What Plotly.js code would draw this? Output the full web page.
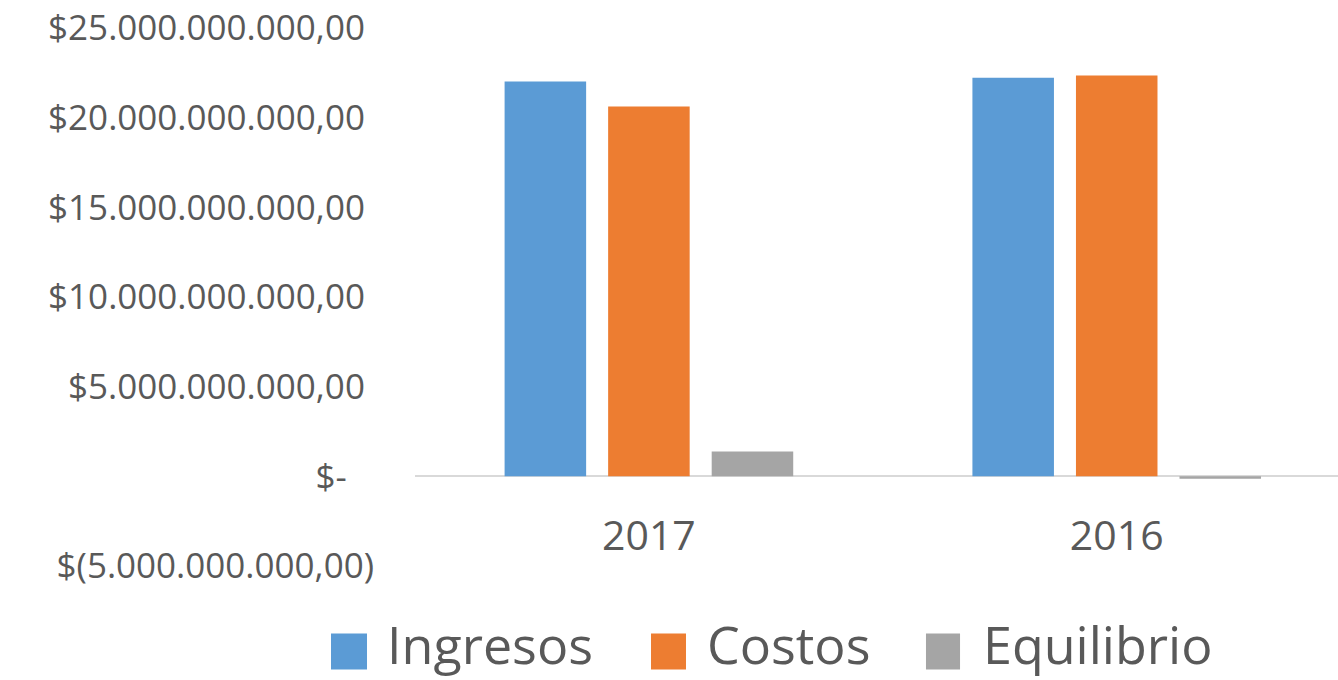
<!DOCTYPE html>
<html>
<head>
<meta charset="utf-8">
<script src="https://cdn.plot.ly/plotly-3.0.1.min.js"></script>
<style>html,body{margin:0;padding:0;background:#fff;}#chart{width:1338px;height:680px;}</style>
</head>
<body>
<div id="chart"></div>
<script>
const categories = ['2017', '2016'];
const seriesNames = ['Ingresos', 'Costos', 'Equilibrio'];
const ingresos = [22.01e9, 22.22e9];
const costos = [20.62e9, 22.35e9];
const equilibrio = [1.39e9, -0.14e9];
const tickValues = [-5e9, 0, 5e9, 10e9, 15e9, 20e9, 25e9];
const tickLabels = ['$(5.000.000.000,00)', '$-\u00a0\u00a0\u00a0', '$5.000.000.000,00\u00a0', '$10.000.000.000,00\u00a0', '$15.000.000.000,00\u00a0', '$20.000.000.000,00\u00a0', '$25.000.000.000,00\u00a0'];

const colors = ['#5B9BD5', '#ED7D31', '#A5A5A5'];
const values = [ingresos, costos, equilibrio];
const textColor = '#595959';
const fontFam = '"Open Sans", sans-serif';

const traces = seriesNames.map((name, i) => ({
  type: 'bar', name: name, x: categories, y: values[i],
  marker: {color: colors[i]}, showlegend: false, hoverinfo: 'x+y+name'
}));

// custom legend (large squares like the reference)
const legendX = [[-0.0910, -0.0520, -0.0310], [0.2557, 0.2936, 0.3157], [0.5536, 0.5905, 0.6147]];
const shapes = [], annotations = [];
seriesNames.forEach((name, i) => {
  shapes.push({type: 'rect', xref: 'paper', yref: 'paper', x0: legendX[i][0], x1: legendX[i][1],
    y0: -0.1923, y1: -0.1254, fillcolor: colors[i], line: {width: 0}});
  annotations.push({xref: 'paper', yref: 'paper', x: legendX[i][2], y: -0.1445, xanchor: 'left', yanchor: 'middle',
    text: name, showarrow: false, borderpad: 0, font: {family: fontFam, size: 52, color: textColor}});
});

const layout = {
  width: 1338, height: 680,
  margin: {l: 415, r: 0, t: 28, b: 114, pad: 0},
  paper_bgcolor: '#fff', plot_bgcolor: '#fff',
  barmode: 'group', bargap: 0.336, bargroupgap: 0.2126,
  showlegend: false,
  xaxis: {
    type: 'category', range: [-0.5, 1.473], anchor: 'free', position: 5/30,
    showline: false, showgrid: false, zeroline: false, ticks: '',
    ticklabelstandoff: 32,
    tickfont: {family: fontFam, size: 41, color: textColor}
  },
  yaxis: {
    range: [-5e9, 25e9], tickmode: 'array', tickvals: tickValues, ticktext: tickLabels,
    showgrid: false, showline: false, ticks: '',
    zeroline: true, zerolinecolor: '#D9D9D9', zerolinewidth: 2,
    ticklabelstandoff: 40,
    tickfont: {family: fontFam, size: 35, color: textColor}
  },
  shapes: shapes, annotations: annotations
};

Plotly.newPlot('chart', traces, layout, {displayModeBar: false, staticPlot: true});
</script>
</body>
</html>
